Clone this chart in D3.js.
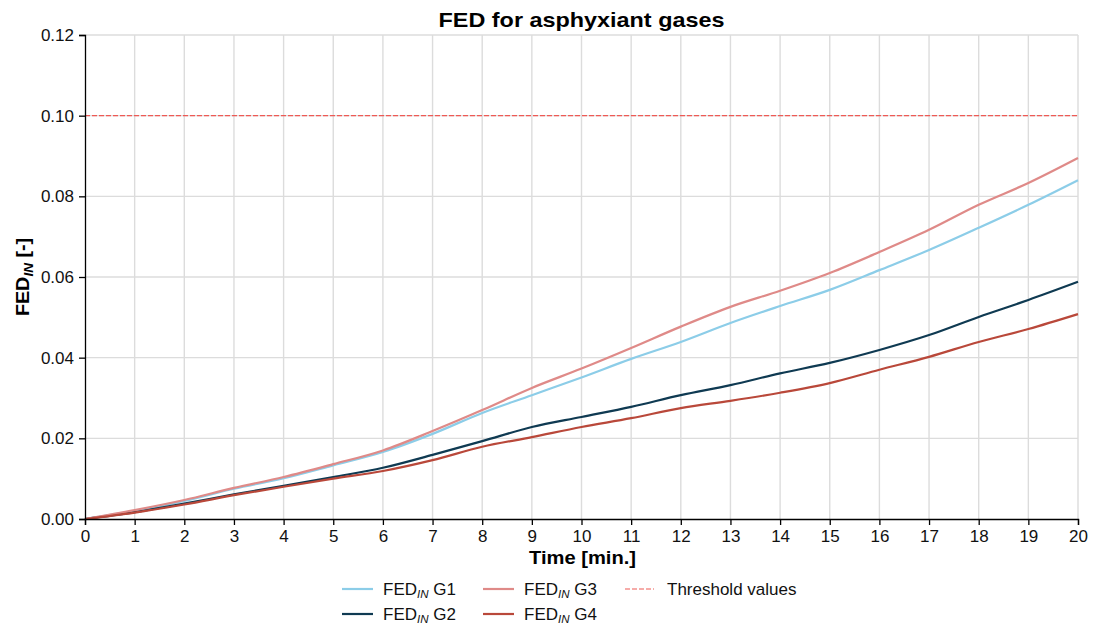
<!DOCTYPE html>
<html>
<head>
<meta charset="utf-8">
<script src="https://cdn.jsdelivr.net/npm/d3@7"></script>
<style>
  body { margin: 0; background: #fff; }
  text { font-family: Arial, "Liberation Sans", sans-serif; }
</style>
</head>
<body>
<svg id="chart" width="1098" height="628"></svg>
<script>
const width = 1098, height = 628
const margin = {top: 35, right: 20, bottom: 109, left: 85}

// time in minutes
const minutes = [0,1,2,3,4,5,6,7,8,9,10,11,12,13,14,15,16,17,18,19,20]
const g1 = [0,0.0020,0.0045,0.0075,0.0101,0.0133,0.0166,0.0211,0.0263,0.0307,0.0351,0.0397,0.0439,0.0486,0.0528,0.0568,0.0617,0.0667,0.0722,0.0779,0.0840]
const g2 = [0,0.0017,0.0038,0.0061,0.0082,0.0104,0.0127,0.0159,0.0193,0.0228,0.0253,0.0278,0.0307,0.0332,0.0361,0.0387,0.0419,0.0456,0.0501,0.0543,0.0588]
const g3 = [0,0.0022,0.0047,0.0077,0.0104,0.0136,0.0170,0.0218,0.0270,0.0325,0.0373,0.0424,0.0477,0.0526,0.0566,0.0610,0.0662,0.0717,0.0779,0.0833,0.0895]
const g4 = [0,0.0016,0.0036,0.0059,0.0080,0.0100,0.0119,0.0146,0.0179,0.0203,0.0228,0.0250,0.0275,0.0293,0.0313,0.0337,0.0370,0.0402,0.0439,0.0471,0.0508]
const threshold = 0.10
const yTicks = [0,0.02,0.04,0.06,0.08,0.10,0.12]

const series = [
  {name: 'G1', values: g1, color: '#8ccde8'},
  {name: 'G2', values: g2, color: '#0f3a52'},
  {name: 'G3', values: g3, color: '#df8a88'},
  {name: 'G4', values: g4, color: '#b9483a'}
]
const thresholdColor = '#ee5a55'

const svg = d3.select('#chart')

const x = d3.scaleLinear().domain([0, 20]).range([margin.left, width - margin.right])
const y = d3.scaleLinear().domain([0, 0.12]).range([height - margin.bottom, margin.top])

// gridlines
svg.append('g').selectAll('line').data(minutes.slice(1))
  .join('line')
  .attr('x1', d => x(d)).attr('x2', d => x(d))
  .attr('y1', y(0)).attr('y2', y(0.12))
  .attr('stroke', '#dcdcdc').attr('stroke-width', 1.4)
svg.append('g').selectAll('line').data(yTicks.slice(1))
  .join('line')
  .attr('x1', x(0)).attr('x2', x(20))
  .attr('y1', d => y(d)).attr('y2', d => y(d))
  .attr('stroke', '#dcdcdc').attr('stroke-width', 1.4)

// threshold
svg.append('line')
  .attr('x1', x(0)).attr('x2', x(20))
  .attr('y1', y(threshold)).attr('y2', y(threshold))
  .attr('stroke', thresholdColor).attr('stroke-width', 1.1)
  .attr('stroke-dasharray', '5,2')

// series lines
const line = d3.line().x((d, i) => x(minutes[i])).y(d => y(d)).curve(d3.curveMonotoneX)
svg.append('g').selectAll('path').data(series)
  .join('path')
  .attr('d', d => line(d.values))
  .attr('fill', 'none')
  .attr('stroke', d => d.color)
  .attr('stroke-width', 2.2)

// axes
const xAxis = svg.append('g')
  .attr('transform', `translate(0,${y(0)})`)
  .call(d3.axisBottom(x).tickValues(minutes).tickFormat(d3.format('d')).tickSizeOuter(0).tickSize(6))
const yAxis = svg.append('g')
  .attr('transform', `translate(${x(0)},0)`)
  .call(d3.axisLeft(y).tickValues(yTicks).tickFormat(d3.format('.2f')).tickSizeOuter(0).tickSize(6))
;[xAxis, yAxis].forEach(a => {
  a.select('.domain').attr('stroke', '#000').attr('stroke-width', 1.3)
  a.selectAll('.tick line').attr('stroke', '#000').attr('stroke-width', 1.3)
  a.selectAll('.tick text').attr('font-size', 17).attr('fill', '#111')
    .attr('font-family', 'Arial, "Liberation Sans", sans-serif')
})
xAxis.selectAll('.tick text').attr('y', 11).attr('dy', '0.71em')
yAxis.selectAll('.tick text').attr('x', -11)

// title
svg.append('text')
  .attr('transform', `translate(${(x(0) + x(20)) / 2},26.5) scale(1.17,1)`)
  .attr('text-anchor', 'middle')
  .attr('font-size', 20).attr('font-weight', 'bold')
  .text('FED for asphyxiant gases')

// x label
svg.append('text')
  .attr('transform', `translate(${(x(0) + x(20)) / 2 + 1},563.5) scale(1.09,1)`)
  .attr('text-anchor', 'middle')
  .attr('font-size', 18.5).attr('font-weight', 'bold')
  .text('Time [min.]')

// y label
const yl = svg.append('text')
  .attr('transform', `translate(28.5,${(y(0) + y(0.12)) / 2}) rotate(-90) scale(1.04,1)`)
  .attr('text-anchor', 'middle')
  .attr('font-size', 19).attr('font-weight', 'bold')
yl.append('tspan').text('FED')
yl.append('tspan').attr('font-size', 13).attr('font-style', 'italic').attr('dy', 4).text('IN')
yl.append('tspan').attr('dy', -4).text(' [-]')

// legend
const legendItems = [
  {label: 'G1', color: series[0].color, lx: 342, ly: 589},
  {label: 'G2', color: series[1].color, lx: 342, ly: 614},
  {label: 'G3', color: series[2].color, lx: 483, ly: 589},
  {label: 'G4', color: series[3].color, lx: 483, ly: 614}
]
const leg = svg.append('g')
legendItems.forEach(d => {
  leg.append('line')
    .attr('x1', d.lx).attr('x2', d.lx + 31)
    .attr('y1', d.ly).attr('y2', d.ly)
    .attr('stroke', d.color).attr('stroke-width', 2.2)
  const t = leg.append('text')
    .attr('x', d.lx + 41).attr('y', d.ly + 6)
    .attr('font-size', 17).attr('fill', '#111')
  t.append('tspan').text('FED')
  t.append('tspan').attr('font-size', 11.5).attr('font-style', 'italic').attr('dy', 3).text('IN')
  t.append('tspan').attr('dy', -3).text(' ' + d.label)
})
leg.append('line')
  .attr('x1', 625).attr('x2', 654)
  .attr('y1', 589).attr('y2', 589)
  .attr('stroke', thresholdColor).attr('stroke-width', 1.1)
  .attr('stroke-dasharray', '5,2')
leg.append('text')
  .attr('x', 667).attr('y', 595)
  .attr('font-size', 17).attr('fill', '#111')
  .text('Threshold values')
</script>
</body>
</html>
